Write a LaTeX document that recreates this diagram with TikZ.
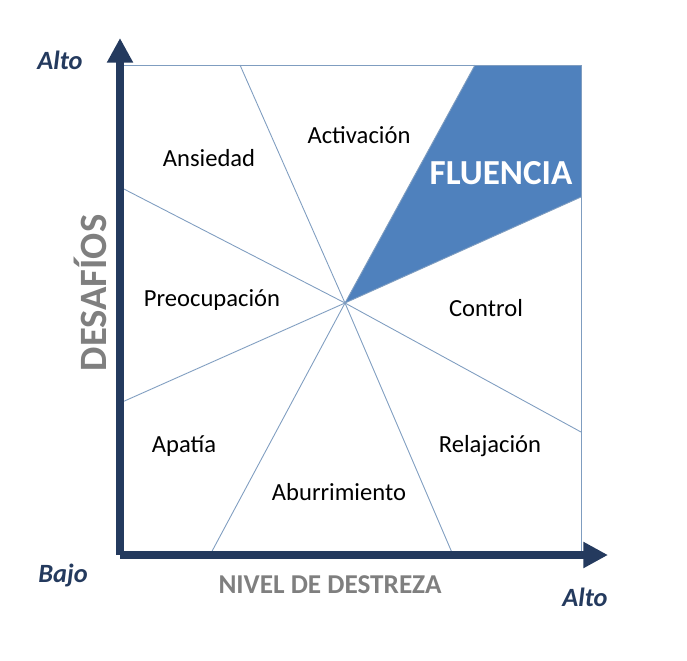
\documentclass[tikz,border=0pt]{standalone}
\usepackage{fontspec}
\setmainfont{Carlito}
\usetikzlibrary{arrows.meta}
\definecolor{axisblue}{HTML}{243A5E}
\definecolor{flowblue}{HTML}{4F81BD}
\definecolor{gridblue}{HTML}{7F9DC0}
\definecolor{labgrey}{HTML}{7F7F7F}
\tikzset{
	zone/.style={font=\fontsize{14}{17}\selectfont, text=black},
	axislabel/.style={font=\bfseries\itshape\fontsize{15}{18}\selectfont, text=axisblue},
	divider/.style={gridblue, line width=0.5pt}
}
\begin{document}
\begin{tikzpicture}[x=0.02cm, y=-0.02cm]
		\useasboundingbox (0,0) rectangle (687,660);

		\coordinate (c) at (345,303);
		\coordinate (o) at (120,555);
		\coordinate (tl) at (120,65);
		\coordinate (tr) at (581,65);
		\coordinate (br) at (581,555);

		% fluencia
		\fill[flowblue] (c) -- (475,65) -- (tr) -- (581,197) -- cycle;

		% marco
		\draw[divider] (tl) -- (tr) -- (br);

		% rayos
		\foreach \p in {(240,65), (475,65), (120,187), (120,403), (210,555), (453,555), (581,432), (581,197)}
			\draw[divider] (c) -- \p;

		% ejes
		\draw[axisblue, line width=5pt, -{Triangle[length=14pt, width=14pt]}] (o) -- (120,38);
		\draw[axisblue, line width=5pt, -{Triangle[length=14pt, width=14pt]}] (o) -- (608,555);

		\node[axislabel] (a1) at (60,60) {Alto};
		\node[axislabel] (b1) at (63,575) {Bajo};
		\node[axislabel] (a2) at (585,597) {Alto};
		\node[rotate=90, font=\bfseries\fontsize{22}{26}\selectfont, text=labgrey] (des) at (90,293) {DESAFÍOS};
		\node[font=\bfseries\fontsize{15.5}{19}\selectfont, text=labgrey] (niv) at (330,585) {NIVEL DE DESTREZA};

		\node[zone] (ans) at (209,158) {Ansiedad};
		\node[zone] (act) at (359,135) {Activación};
		\node[font=\bfseries\fontsize{20}{24}\selectfont, text=white] (flu) at (501,173) {FLUENCIA};
		\node[zone] (pre) at (212,300) {Preocupación};
		\node[zone] (con) at (486,308) {Control};
		\node[zone] (apa) at (184,446) {Apatía};
		\node[zone] (rel) at (490,446) {Relajación};
		\node[zone] (abu) at (339,492) {Aburrimiento};
	\end{tikzpicture}
\end{document}
